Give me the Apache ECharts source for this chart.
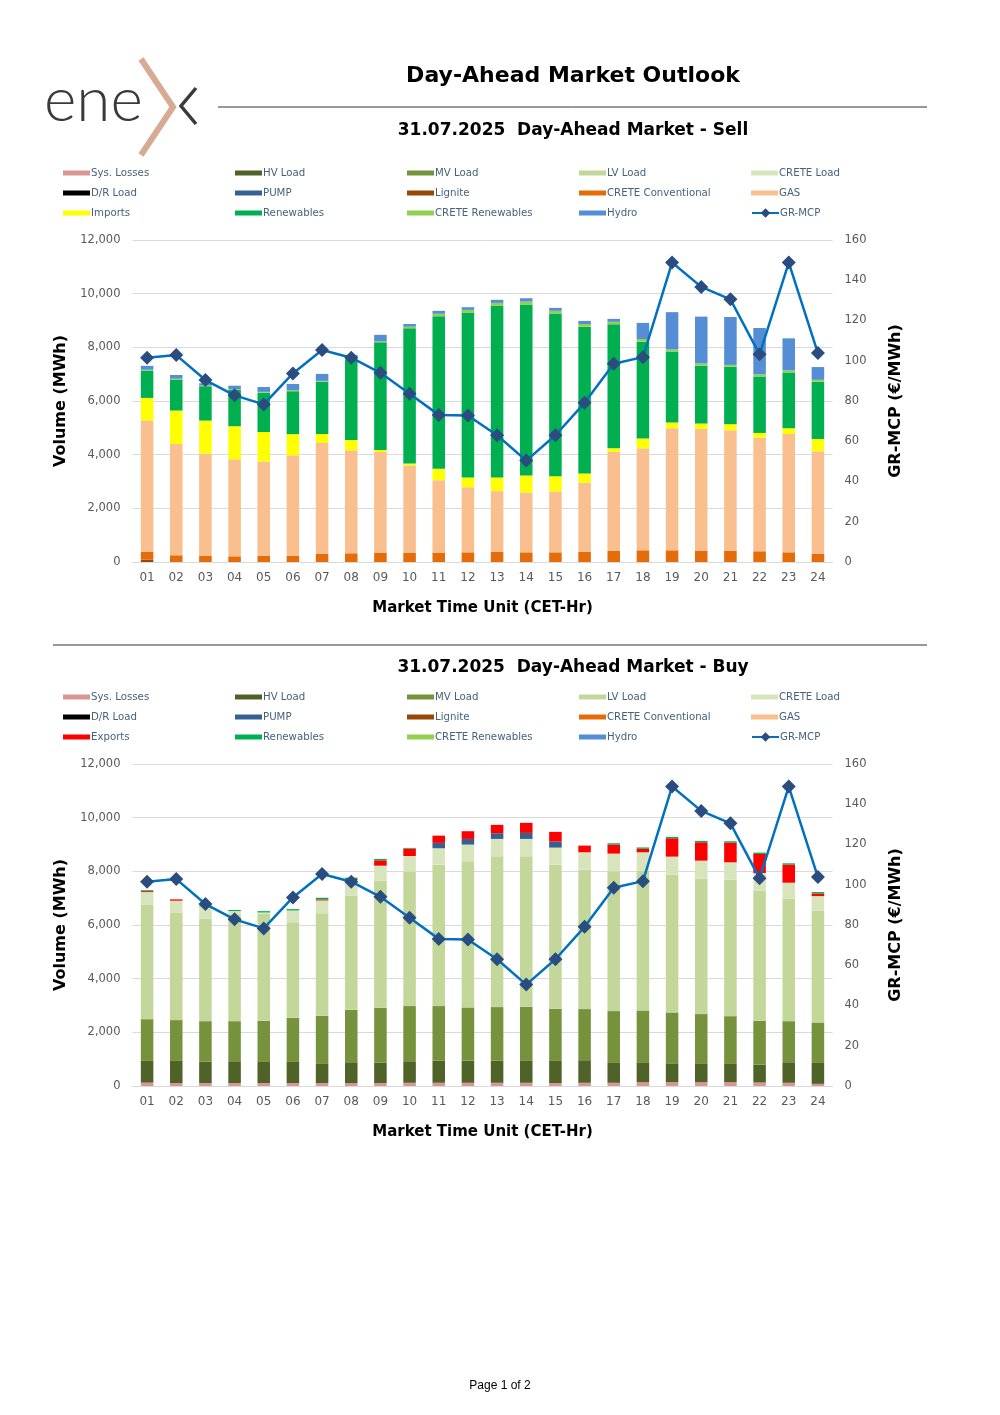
<!DOCTYPE html>
<html>
<head>
<meta charset="utf-8">
<script src="https://cdn.jsdelivr.net/npm/echarts@6/dist/echarts.min.js"></script>
<style>
html,body{margin:0;padding:0;background:#fff;}
#c{width:1000px;height:1415px;}
</style>
</head>
<body>
<div id="c"></div>
<script>
const hours = ['01','02','03','04','05','06','07','08','09','10','11','12','13','14','15','16','17','18','19','20','21','22','23','24'];
const volTicks = [0, 12000, 2000];
const priceTicks = [0, 160, 20];

// GR-MCP (€/MWh)
const mcp = [101.5,102.8,90.4,82.8,78.3,93.7,105.3,101.5,94.0,83.6,73.1,72.8,63.0,50.4,63.0,79.1,98.5,101.8,148.8,136.7,130.5,103.2,148.8,103.8];

// SELL (MWh)
const sellLignite = [87,0,0,0,0,0,0,0,0,0,0,0,0,0,0,0,0,0,0,0,0,0,0,0];
const sellCreteConv = [287,250,237,212,224,224,300,324,336,336,349,360,386,360,360,386,411,436,436,424,424,399,361,300];
const sellGas = [4896,4150,3800,3613,3526,3750,4135,3836,3760,3264,2700,2430,2255,2230,2270,2567,3690,3800,4550,4536,4486,4236,4409,3825];
const sellImports = [845,1245,1233,1235,1095,790,335,388,75,75,425,360,510,635,570,347,135,365,210,200,225,175,215,460];
const sellRenewables = [1020,1155,1280,1350,1465,1600,1950,3010,4015,5035,5685,6145,6395,6370,6060,5470,4625,3610,2645,2155,2145,2105,2080,2130];
const sellCreteRen = [30,30,30,30,30,40,30,40,40,60,90,100,110,110,100,100,90,100,80,85,65,80,75,75];
const sellHydro = [145,140,80,130,180,230,260,120,240,100,110,100,115,125,110,115,110,600,1390,1745,1785,1725,1195,475];

// BUY (MWh)
const buyLosses = [125,110,110,110,110,110,110,110,110,120,120,120,120,120,110,120,120,140,140,140,140,130,120,80];
const buyHV = [810,825,800,812,787,787,712,775,762,802,827,827,827,815,825,840,740,720,682,682,682,667,765,780];
const buyMV = [1557,1520,1507,1495,1533,1645,1795,1955,2043,2056,2031,1981,1993,2018,1943,1906,1931,1956,1919,1857,1782,1633,1532,1507];
const buyLV = [4261,4000,3813,3983,3987,3563,3825,4260,4735,5009,5271,5445,5620,5607,5371,5196,5209,5214,5134,5046,5084,4859,4561,4175];
const buyCrete = [474,450,460,120,50,436,473,575,560,585,611,623,648,648,635,648,660,680,673,673,648,648,598,535];
const buyPump = [0,0,0,0,0,0,0,0,0,0,200,212,212,224,224,0,0,0,0,0,0,0,0,0];
const buyExports = [35,50,0,0,0,0,40,40,200,275,270,287,311,374,362,249,336,130,685,685,735,710,673,100];
const buyRenewables = [35,0,30,40,50,50,60,50,50,25,0,0,0,0,0,0,50,50,50,50,50,50,50,50];

const colors = {
  'Sys. Losses':'#DA9694','HV Load':'#4F6228','MV Load':'#76923C','LV Load':'#C4D79B','CRETE Load':'#D8E4BC',
  'D/R Load':'#000000','PUMP':'#366092','Lignite':'#974706','CRETE Conventional':'#E46C0A','GAS':'#FABF8F',
  'Imports':'#FFFF00','Exports':'#FF0000','Renewables':'#00B050','CRETE Renewables':'#92D050','Hydro':'#558ED5'
};

const FONT = '"DejaVu Sans", sans-serif';
const axisGray = '#595959';

const sellSeries = [
  ['Sys. Losses', []],['HV Load', []],['MV Load', []],['LV Load', []],['CRETE Load', []],['D/R Load', []],['PUMP', []],
  ['Lignite', sellLignite],['CRETE Conventional', sellCreteConv],['GAS', sellGas],['Imports', sellImports],
  ['Renewables', sellRenewables],['CRETE Renewables', sellCreteRen],['Hydro', sellHydro]
];
const buySeries = [
  ['Sys. Losses', buyLosses],['HV Load', buyHV],['MV Load', buyMV],['LV Load', buyLV],['CRETE Load', buyCrete],['D/R Load', []],['PUMP', buyPump],
  ['Lignite', []],['CRETE Conventional', []],['GAS', []],['Exports', buyExports],
  ['Renewables', buyRenewables],['CRETE Renewables', []],['Hydro', []]
];

function barSeries(list, gi, stack) {
  return list.map(([name, data]) => ({
    name, type:'bar', stack, xAxisIndex: gi, yAxisIndex: gi*2,
    barWidth: '43%', data,
    itemStyle:{color: colors[name]}, emphasis:{disabled:true}, animation:false
  }));
}
function lineSeries(gi) {
  return {
    name:'GR-MCP', type:'line', xAxisIndex: gi, yAxisIndex: gi*2+1, data: mcp,
    symbol:'diamond', symbolSize:14, z:10,
    lineStyle:{color:'#0070C0', width:2.5},
    itemStyle:{color:'#2B4C7E'}, emphasis:{disabled:true}, animation:false
  };
}

const colLeft = [58, 230, 402, 574, 746];
const sellCols = [
  ['Sys. Losses','D/R Load','Imports'],
  ['HV Load','PUMP','Renewables'],
  ['MV Load','Lignite','CRETE Renewables'],
  ['LV Load','CRETE Conventional','Hydro'],
  ['CRETE Load','GAS']
];
const buyCols = [
  ['Sys. Losses','D/R Load','Exports'],
  ['HV Load','PUMP','Renewables'],
  ['MV Load','Lignite','CRETE Renewables'],
  ['LV Load','CRETE Conventional','Hydro'],
  ['CRETE Load','GAS']
];
const legendText = {fontFamily: FONT, fontSize: 10.2, color:'#46627C', lineHeight:14, padding:[0,0,0,-4]};
function legends(cols, top) {
  const out = cols.map((names, i) => ({
    orient:'vertical', left: colLeft[i], top: top, data: names,
    itemWidth: 27, itemHeight: 5, itemGap: 6, selectedMode:false,
    icon:'rect', textStyle: legendText
  }));
  out.push({
    orient:'vertical', left: colLeft[4], top: top+40, data:['GR-MCP'],
    itemWidth: 27, itemHeight: 12, selectedMode:false, textStyle: legendText
  });
  return out;
}

function xAxis(gi) {
  return {
    type:'category', gridIndex: gi, data: hours,
    axisLine:{show:true, lineStyle:{color:'#D9D9D9', width:1}}, axisTick:{show:false},
    axisLabel:{color: axisGray, fontFamily: FONT, fontSize: 12, margin: 10},
    name:'Market Time Unit (CET-Hr)', nameLocation:'middle', nameGap: 39,
    nameTextStyle:{color:'#000', fontFamily: FONT, fontSize: 15, fontWeight:'bold'}
  };
}
function yAxes(gi) {
  return [{
    type:'value', gridIndex: gi, min: volTicks[0], max: volTicks[1], interval: volTicks[2],
    axisLine:{show:false}, axisTick:{show:false},
    splitLine:{lineStyle:{color:'#D9D9D9', width:1}},
    axisLabel:{color: axisGray, fontFamily: FONT, fontSize: 11.5, margin: 12,
      formatter: v => v.toLocaleString('en-US')},
    name:'Volume (MWh)', nameLocation:'middle', nameRotate: 90, nameGap: 64,
    nameTextStyle:{color:'#000', fontFamily: FONT, fontSize: 16, fontWeight:'bold'}
  },{
    type:'value', gridIndex: gi, position:'right', min: priceTicks[0], max: priceTicks[1], interval: priceTicks[2],
    axisLine:{show:false}, axisTick:{show:false}, splitLine:{show:false},
    axisLabel:{color: axisGray, fontFamily: FONT, fontSize: 11.5, margin: 12},
    name:'GR-MCP (€/MWh)', nameLocation:'middle', nameRotate: 90, nameGap: 55,
    nameTextStyle:{color:'#000', fontFamily: FONT, fontSize: 16, fontWeight:'bold'}
  }];
}

const chart = echarts.init(document.getElementById('c'), null, {renderer:'canvas'});
chart.setOption({
  backgroundColor:'#ffffff',
  animation:false,
  grid:[
    {left:132.5, width:700, top:240, height:322},
    {left:132.5, width:700, top:764, height:322}
  ],
  legend: [].concat(legends(sellCols, 161), legends(buyCols, 685)),
  xAxis:[xAxis(0), xAxis(1)],
  yAxis:[].concat(yAxes(0), yAxes(1)),
  series:[].concat(barSeries(sellSeries, 0, 'sell'), [lineSeries(0)], barSeries(buySeries, 1, 'buy'), [lineSeries(1)]),
  graphic:[
    {type:'text', style:{text:'ene', x:44, y:101, font:'300 62px Lato, sans-serif', fill:'#3A3A3A', align:'left', verticalAlign:'middle'}},
    {type:'polyline', shape:{points:[[141,59],[173,107],[141,155]]}, style:{stroke:'#D9AA93', lineWidth:6, fill:null}},
    {type:'polyline', shape:{points:[[196,88],[181,106],[196,124]]}, style:{stroke:'#3A3A3A', lineWidth:3.5, fill:null}},
    {type:'text', style:{text:'Day-Ahead Market Outlook', x:573, y:76, font:'bold 22px "DejaVu Sans", sans-serif', fill:'#000', align:'center', verticalAlign:'middle'}},
    {type:'line', shape:{x1:218, y1:107, x2:927, y2:107}, style:{stroke:'#333', lineWidth:1}},
    {type:'text', style:{text:'31.07.2025  Day-Ahead Market - Sell', x:573, y:131, font:'bold 17px "DejaVu Sans", sans-serif', fill:'#000', align:'center', verticalAlign:'middle'}},
    {type:'line', shape:{x1:53, y1:645, x2:927, y2:645}, style:{stroke:'#333', lineWidth:1}},
    {type:'text', style:{text:'31.07.2025  Day-Ahead Market - Buy', x:573, y:668, font:'bold 17px "DejaVu Sans", sans-serif', fill:'#000', align:'center', verticalAlign:'middle'}},
    {type:'text', style:{text:'Page 1 of 2', x:500, y:1386, font:'12px "Liberation Sans", Arial, sans-serif', fill:'#000', align:'center', verticalAlign:'middle'}}
  ]
});
</script>
</body>
</html>
